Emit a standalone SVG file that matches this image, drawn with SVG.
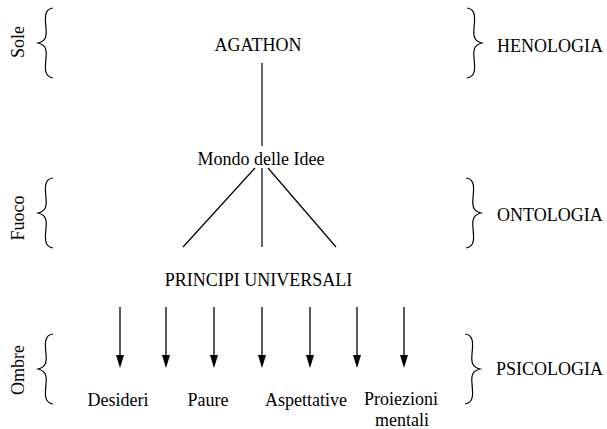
<svg xmlns="http://www.w3.org/2000/svg" width="607" height="429" viewBox="0 0 607 429">
<style>
.t{font-family:'Liberation Serif','Times New Roman',Times,serif;font-size:18px;fill:#000}
.b{fill:none;stroke:#000;stroke-width:1.2}
.c{stroke:#000;stroke-width:1.2;fill:none}
.a{stroke:#000;stroke-width:1.3;fill:none}
</style>
<defs>
<path id="lb" d="M15,0 C6,1 7,10 8,20 C9,30 7,33 0,35 C7,37 9,40 8,50 C7,60 6,69 15,70"/>
<path id="rb" d="M0,0 C9,1 8,10 7,20 C6,30 8,33 15,35 C8,37 6,40 7,50 C8,60 9,69 0,70"/>
</defs>
<g class="t" font-family="Liberation Serif, Times New Roman, serif">
<g id="sole"><text transform="translate(24,42) rotate(-90)" text-anchor="middle">Sole</text><use href="#lb" x="38" y="8" class="b"/></g>
<g id="fuoco"><text transform="translate(24,218) rotate(-90)" text-anchor="middle">Fuoco</text><use href="#lb" x="38" y="178" class="b"/></g>
<g id="ombre"><text transform="translate(24,370) rotate(-90)" text-anchor="middle">Ombre</text><use href="#lb" x="38" y="334" class="b"/></g>
<g id="henologia"><use href="#rb" x="467" y="8" class="b"/><text x="497" y="52">HENOLOGIA</text></g>
<g id="ontologia"><use href="#rb" x="466" y="178" class="b"/><text x="497" y="221">ONTOLOGIA</text></g>
<g id="psicologia"><use href="#rb" x="465" y="334" class="b"/><text x="496" y="375">PSICOLOGIA</text></g>
<g id="agathon"><text x="258" y="51" text-anchor="middle">AGATHON</text></g>
<g id="mondo"><text x="261" y="165" text-anchor="middle">Mondo delle Idee</text></g>
<g id="principi"><text x="258.5" y="286" text-anchor="middle">PRINCIPI UNIVERSALI</text></g>
<g id="desideri"><text x="118" y="406" text-anchor="middle">Desideri</text></g>
<g id="paure"><text x="208" y="406" text-anchor="middle">Paure</text></g>
<g id="aspettative"><text x="306" y="406" text-anchor="middle">Aspettative</text></g>
<g id="proiezioni"><text x="401" y="405" text-anchor="middle">Proiezioni</text><text x="402" y="426" text-anchor="middle">mentali</text></g>
</g>
<g id="connectors">
<line class="c" x1="262" y1="63" x2="262" y2="146"/>
<line class="c" x1="255" y1="168" x2="183" y2="247"/>
<line class="c" x1="262" y1="168" x2="262" y2="247"/>
<line class="c" x1="268" y1="168" x2="336" y2="247"/>
<g fill="#000">
<line class="a" x1="120" y1="307" x2="120" y2="358"/><path d="M116,355 L124,355 L120,368 Z"/>
<line class="a" x1="166" y1="307" x2="166" y2="358"/><path d="M162,355 L170,355 L166,368 Z"/>
<line class="a" x1="214" y1="307" x2="214" y2="358"/><path d="M210,355 L218,355 L214,368 Z"/>
<line class="a" x1="262" y1="307" x2="262" y2="358"/><path d="M258,355 L266,355 L262,368 Z"/>
<line class="a" x1="310" y1="307" x2="310" y2="358"/><path d="M306,355 L314,355 L310,368 Z"/>
<line class="a" x1="357" y1="307" x2="357" y2="358"/><path d="M353,355 L361,355 L357,368 Z"/>
<line class="a" x1="404" y1="307" x2="404" y2="358"/><path d="M400,355 L408,355 L404,368 Z"/>
</g>
</g>
</svg>
